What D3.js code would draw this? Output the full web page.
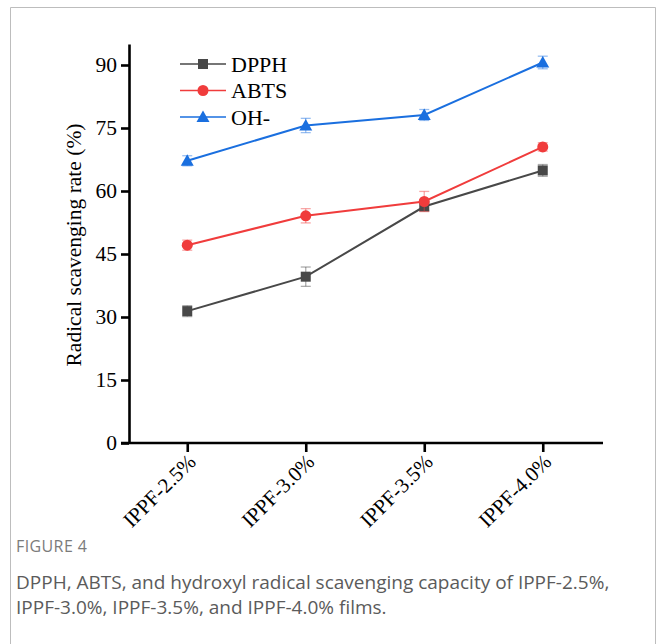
<!DOCTYPE html>
<html>
<head>
<meta charset="utf-8">
<script src="https://cdn.jsdelivr.net/npm/d3@7"></script>
<style>
  body { margin: 0; background: #fff; }
  svg { display: block; }
</style>
</head>
<body>
<svg id="chart"></svg>
<script>
// data
const groups = ["IPPF-2.5%", "IPPF-3.0%", "IPPF-3.5%", "IPPF-4.0%"];
const seriesNames = ["DPPH", "ABTS", "OH-"];
const dpph = [31.4, 39.6, 56.3, 64.9];
const dpphErr = [1.3, 2.3, 0.9, 1.4];
const abts = [47.1, 54.1, 57.5, 70.5];
const abtsErr = [1.2, 1.7, 2.4, 1.0];
const oh = [67.2, 75.6, 78.1, 90.6];
const ohErr = [1.2, 1.7, 1.3, 1.5];
const yTicks = [0, 15, 30, 45, 60, 75, 90];

const width = 656, height = 644;
const svg = d3.select("#chart").attr("width", width).attr("height", height);

// frame
svg.append("path")
    .attr("d", "M10.5,644 V7.5 H655.5 V644")
    .attr("fill", "none")
    .attr("stroke", "#bdbdbd")
    .attr("stroke-width", 1);

const x = d3.scalePoint().domain(groups).range([128, 602]).padding(0.5);
const y = d3.scaleLinear().domain([0, 95]).range([443, 44]);

const series = [
    { name: seriesNames[0], values: dpph, err: dpphErr, color: "#484848", shape: "square" },
    { name: seriesNames[1], values: abts, err: abtsErr, color: "#f03c3c", shape: "circle" },
    { name: seriesNames[2], values: oh, err: ohErr, color: "#1a6fdf", shape: "triangle" }
];

const serif = "'Liberation Serif', 'Times New Roman', serif";

// axes
const yAxis = svg.append("g")
    .attr("transform", "translate(129,0)")
    .call(d3.axisLeft(y).tickValues(yTicks).tickSize(8).tickPadding(4).tickSizeOuter(0));
const xAxis = svg.append("g")
    .attr("transform", "translate(0,443)")
    .call(d3.axisBottom(x).tickSize(9).tickSizeOuter(0).tickFormat(""));

[yAxis, xAxis].forEach(g => {
    g.select(".domain").attr("stroke", "#000").attr("stroke-width", 2.6);
    g.selectAll(".tick line").attr("stroke", "#000").attr("stroke-width", 2.6);
});
xAxis.select(".domain").attr("d", "M121,0H603");
yAxis.selectAll("text")
    .attr("font-family", serif).attr("font-size", 21.5).attr("fill", "#000");

// rotated x labels
svg.append("g").selectAll("text")
    .data(groups)
    .join("text")
    .attr("transform", d => `translate(${x(d) + 10},${463}) rotate(-45)`)
    .attr("text-anchor", "end")
    .attr("font-family", serif)
    .attr("font-size", 21)
    .attr("fill", "#000")
    .text(d => d);

// y label
svg.append("text")
    .attr("transform", "translate(81,245) rotate(-90)")
    .attr("text-anchor", "middle")
    .attr("font-family", serif)
    .attr("font-size", 21.5)
    .text("Radical scavenging rate (%)");

function drawMarker(g, shape, color) {
    if (shape === "square") {
        g.append("rect").attr("x", -5).attr("y", -5).attr("width", 10).attr("height", 10).attr("fill", color);
    } else if (shape === "circle") {
        g.append("circle").attr("r", 5.5).attr("fill", color);
    } else {
        g.append("path").attr("d", "M0,-6.5L6.5,5L-6.5,5Z").attr("fill", color);
    }
}

const line = d3.line().x((d, i) => x(groups[i])).y(d => y(d));

series.forEach(s => {
    const g = svg.append("g");
    // error bars
    const eb = g.append("g").attr("stroke", s.color).attr("stroke-opacity", 0.45).attr("stroke-width", 1.3);
    s.values.forEach((v, i) => {
        const cx = x(groups[i]);
        const top = y(v + s.err[i]), bot = y(v - s.err[i]);
        eb.append("line").attr("x1", cx).attr("x2", cx).attr("y1", top).attr("y2", bot);
        eb.append("line").attr("x1", cx - 5).attr("x2", cx + 5).attr("y1", top).attr("y2", top);
        eb.append("line").attr("x1", cx - 5).attr("x2", cx + 5).attr("y1", bot).attr("y2", bot);
    });
    g.append("path")
        .attr("d", line(s.values))
        .attr("fill", "none")
        .attr("stroke", s.color)
        .attr("stroke-width", 2);
    s.values.forEach((v, i) => {
        const m = g.append("g").attr("transform", `translate(${x(groups[i])},${y(v)})`);
        drawMarker(m, s.shape, s.color);
    });
});

// legend
const legend = svg.append("g");
series.forEach((s, i) => {
    const ly = 64 + i * 26.5;
    const lg = legend.append("g").attr("transform", `translate(0,${ly})`);
    lg.append("line").attr("x1", 180).attr("x2", 226).attr("stroke", s.color).attr("stroke-width", 1.6);
    const m = lg.append("g").attr("transform", "translate(203,0)");
    drawMarker(m, s.shape, s.color);
    lg.append("text")
        .attr("x", 231).attr("y", 7.5)
        .attr("font-family", serif)
        .attr("font-size", 22)
        .text(s.name);
});

// caption
const sans = "'Open Sans', 'Noto Sans', sans-serif";
svg.append("text")
    .attr("x", 16).attr("y", 552)
    .attr("font-family", sans)
    .attr("font-size", 16)
    .attr("letter-spacing", 0.4)
    .attr("fill", "#7b7b7b")
    .text("FIGURE 4");
svg.append("text")
    .attr("x", 16).attr("y", 589)
    .attr("font-family", sans)
    .attr("font-size", 19)
    .attr("fill", "#5b5b5b")
    .text("DPPH, ABTS, and hydroxyl radical scavenging capacity of IPPF-2.5%,");
svg.append("text")
    .attr("x", 16).attr("y", 614)
    .attr("font-family", sans)
    .attr("font-size", 19)
    .attr("fill", "#5b5b5b")
    .text("IPPF-3.0%, IPPF-3.5%, and IPPF-4.0% films.");
</script>
</body>
</html>
